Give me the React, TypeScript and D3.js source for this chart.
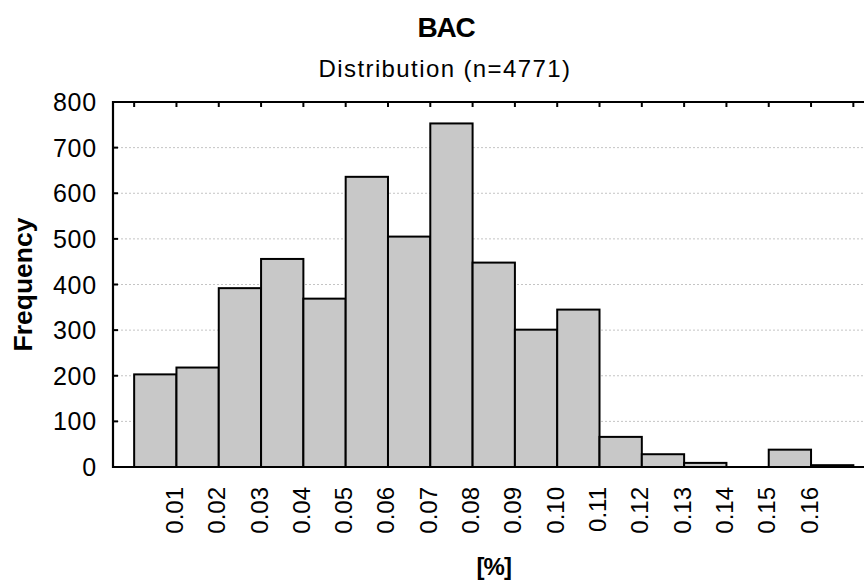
import React from "react";
import * as d3 from "d3";

const title = "BAC";
const subtitle = "Distribution (n=4771)";
const yTitle = "Frequency";
const xTitle = "[%]";

const binLower = [0.0, 0.01, 0.02, 0.03, 0.04, 0.05, 0.06, 0.07, 0.08, 0.09, 0.1, 0.11, 0.12, 0.13, 0.14, 0.15, 0.16];
const binWidth = 0.01;
const frequencies = [203, 218, 392, 456, 369, 636, 505, 753, 448, 301, 345, 66, 28, 9, 0, 38, 4];
const xTickLabels = ["0.01", "0.02", "0.03", "0.04", "0.05", "0.06", "0.07", "0.08", "0.09", "0.10", "0.11", "0.12", "0.13", "0.14", "0.15", "0.16"];
const topTicks = [0.0, 0.01, 0.02, 0.03, 0.04, 0.05, 0.06, 0.07, 0.08, 0.09, 0.1, 0.11, 0.12, 0.13, 0.14, 0.15, 0.16, 0.17];
const yTicks = [0, 100, 200, 300, 400, 500, 600, 700, 800];

const W = 864;
const H = 581;
const FONT = "'Liberation Sans', Arial, Helvetica, sans-serif";

export default function App() {
  const left = 113;
  const right = 874.5;
  const top = 102;
  const bottom = 467;
  const x = d3.scaleLinear().domain([-0.005, 0.175]).range([left, right]);
  const y = d3.scaleLinear().domain([0, 800]).range([bottom, top]);

  return (
    <svg
      width={W}
      height={H}
      style={{ position: "absolute", left: 0, top: 0, background: "#fff" }}
      fontFamily={FONT}
    >
      <rect x={0} y={0} width={W} height={H} fill="#fff" />
      {/* titles */}
      <text x={446} y={37} textAnchor="middle" fontSize={28} fontWeight="bold" letterSpacing={-1.2}>
        {title}
      </text>
      <text x={445} y={77} textAnchor="middle" fontSize={24} letterSpacing={1.4}>
        {subtitle}
      </text>

      {/* gridlines */}
      {yTicks
        .filter((t) => t > 0 && t < 800)
        .map((t) => (
          <line
            key={"g" + t}
            x1={left}
            x2={W}
            y1={y(t)}
            y2={y(t)}
            stroke="#c4c4c4"
            strokeWidth={1}
            strokeDasharray="2,2"
          />
        ))}

      {/* bars */}
      {binLower.map((b, i) => {
        const x0 = x(b);
        const x1 = x(b + binWidth);
        const y0 = y(frequencies[i]);
        return (
          <rect
            key={"b" + i}
            x={x0}
            y={y0}
            width={x1 - x0}
            height={bottom - y0}
            fill="#c8c8c8"
            stroke="#000"
            strokeWidth={2}
          />
        );
      })}

      {/* axes frame */}
      <line x1={left} x2={W} y1={top} y2={top} stroke="#000" strokeWidth={2.2} />
      <line x1={left} x2={W} y1={bottom} y2={bottom} stroke="#000" strokeWidth={2.2} />
      <line x1={left} x2={left} y1={top - 1} y2={bottom + 1} stroke="#000" strokeWidth={2.2} />

      {/* top ticks */}
      {topTicks.map((t) => (
        <line key={"tt" + t} x1={x(t)} x2={x(t)} y1={top} y2={top + 5} stroke="#000" strokeWidth={2} />
      ))}

      {/* y ticks and labels */}
      {yTicks.map((t) => (
        <g key={"y" + t}>
          <line x1={left} x2={left + 5} y1={y(t)} y2={y(t)} stroke="#000" strokeWidth={2} />
          <text x={97} y={y(t)} dy="0.36em" textAnchor="end" fontSize={25} letterSpacing={0.8}>
            {t}
          </text>
        </g>
      ))}

      {/* x tick labels */}
      {xTickLabels.map((l) => {
        const px = x(parseFloat(l));
        return (
          <text
            key={"xl" + l}
            transform={`translate(${px},${bottom + 20}) rotate(-90)`}
            dy="0.27em"
            textAnchor="end"
            fontSize={24}
          >
            {l}
          </text>
        );
      })}

      {/* axis titles */}
      <text
        transform={`translate(32,${(top + bottom) / 2}) rotate(-90)`}
        textAnchor="middle"
        fontSize={26.5}
        fontWeight="bold"
      >
        {yTitle}
      </text>
      <text x={(left + right) / 2} y={575} textAnchor="middle" fontSize={24} fontWeight="bold" letterSpacing={-1}>
        {xTitle}
      </text>
    </svg>
  );
}
